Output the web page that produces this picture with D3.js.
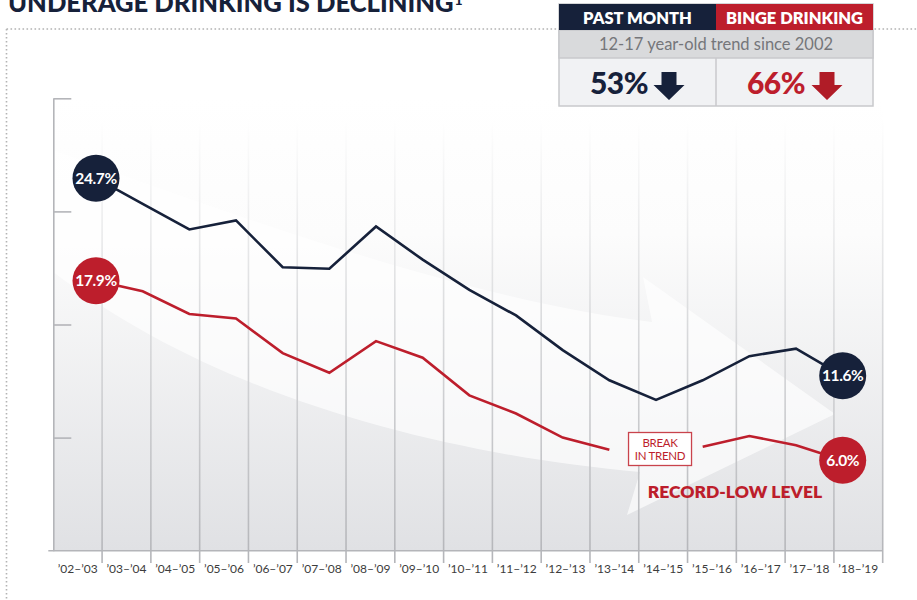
<!DOCTYPE html>
<html>
<head>
<meta charset="utf-8">
<script src="https://cdn.jsdelivr.net/npm/d3@7"></script>
<style>
  html, body { margin: 0; padding: 0; background: #fff; }
  svg { display: block; font-family: "Lato", "Noto Sans", sans-serif; }
</style>
</head>
<body>
<svg id="chart" width="917" height="600"></svg>
<script>
// Chart data.
var periods = ["’02–’03", "’03–’04", "’04–’05", "’05–’06", "’06–’07", "’07–’08",
  "’08–’09", "’09–’10", "’10–’11", "’11–’12", "’12–’13", "’13–’14", "’14–’15",
  "’15–’16", "’16–’17", "’17–’18", "’18–’19"];
var pastMonth = [24.7, 23.0, 21.3, 21.9, 18.8, 18.7, 21.5, 19.3, 17.3, 15.6,
  13.3, 11.3, 10.0, 11.3, 12.9, 13.4, 11.6];
var bingeDrinking = [17.9, 17.2, 15.7, 15.4, 13.1, 11.8, 13.9, 12.8, 10.3, 9.1,
  7.5, 6.7, null, 6.9, 7.6, 7.0, 6.0];
var yTicks = [0, 7.5, 15, 22.5, 30];
var legendHeads = ["PAST MONTH", "BINGE DRINKING"];
var legendChanges = ["53%", "66%"];
var legendNote = "12-17 year-old trend since 2002";

// Globals.
var NAVY = "#16213a";
var RED = "#bd1e2c";
var GRID = "#b4b5b9";
var TOP = 98.3, BOTTOM = 550.7, LEFT = 53.3, RIGHT = 882.7;

var svg = d3.select("#chart");
var defs = svg.append("defs");

var x = d3.scalePoint().domain(periods).range([96, 842.7]);
var xBand = d3.scaleBand().domain(periods).range([LEFT, RIGHT]).padding(0);
var y = d3.scaleLinear().domain([0, 30]).range([BOTTOM, TOP]);

// Gradients for the plot background and the column lines.
var bg = defs.append("linearGradient").attr("id", "bg")
  .attr("x1", 0).attr("y1", 0).attr("x2", 0).attr("y2", 1);
bg.append("stop").attr("offset", "0%").attr("stop-color", "#ffffff");
bg.append("stop").attr("offset", "30%").attr("stop-color", "#fcfcfc");
bg.append("stop").attr("offset", "100%").attr("stop-color", "#e0e1e4");

var colGrad = defs.append("linearGradient").attr("id", "col")
  .attr("gradientUnits", "userSpaceOnUse")
  .attr("x1", 0).attr("y1", 118).attr("x2", 0).attr("y2", 563);
colGrad.append("stop").attr("offset", "0%").attr("stop-color", "#ffffff");
colGrad.append("stop").attr("offset", "45%").attr("stop-color", "#dadbdd");
colGrad.append("stop").attr("offset", "100%").attr("stop-color", GRID);

// Dotted frame.
svg.append("path")
  .attr("d", "M6.5,29H917M6.5,29V600")
  .attr("fill", "none")
  .attr("stroke", "#b3b3b3")
  .attr("stroke-width", 1.6)
  .attr("stroke-dasharray", "1.6 2.4");

// Title (cut off by the top edge, as in the original).
var title = svg.append("text")
  .attr("x", 8).attr("y", 11.5)
  .attr("fill", NAVY)
  .attr("font-size", 25.6)
  .attr("font-weight", 900)
  .text("UNDERAGE DRINKING IS DECLINING");
title.append("tspan")
  .attr("font-size", 14)
  .attr("dx", 1)
  .attr("dy", -7)
  .text("1");

// Plot background.
svg.append("rect")
  .attr("x", LEFT).attr("y", TOP)
  .attr("width", RIGHT - LEFT).attr("height", BOTTOM - TOP)
  .attr("fill", "url(#bg)");

// Big faint arrow.
svg.append("path")
  .attr("d", "M" + LEFT + ",150C250,222 480,302 652,322L643,277L835,414L627,515" +
    "L640,472C450,455 220,400 " + LEFT + ",272Z")
  .attr("fill", "#ffffff")
  .attr("opacity", 0.65);

// Column lines.
svg.append("g").selectAll("line")
  .data(periods)
  .enter()
  .append("line")
  .attr("x1", function(d){ return xBand(d) + xBand.bandwidth(); })
  .attr("x2", function(d){ return xBand(d) + xBand.bandwidth(); })
  .attr("y1", 118)
  .attr("y2", 563)
  .attr("stroke", "url(#col)")
  .attr("stroke-width", 1.6);

// Y axis.
var yAxis = svg.append("g")
  .attr("transform", "translate(" + LEFT + ",0)")
  .call(d3.axisRight(y).tickValues(yTicks).tickSize(18).tickSizeOuter(0).tickFormat(""));
yAxis.select(".domain").attr("stroke", GRID).attr("stroke-width", 1.6);
yAxis.selectAll(".tick line").attr("stroke", GRID).attr("stroke-width", 1.6);
yAxis.selectAll(".tick").filter(function(d){ return d === 0; }).remove();

// X axis.
var xAxis = svg.append("g")
  .attr("transform", "translate(0," + BOTTOM + ")")
  .call(d3.axisBottom(xBand).tickSize(0).tickSizeOuter(0).tickPadding(14));
xAxis.select(".domain").remove();
xAxis.append("line")
  .attr("x1", LEFT - 5).attr("x2", RIGHT)
  .attr("stroke", GRID).attr("stroke-width", 1.6);
xAxis.selectAll("text")
  .attr("fill", "#3c3c3c")
  .attr("font-size", 12)
  .attr("font-family", "Lato, sans-serif");

// Lines.
var line = d3.line()
  .defined(function(d){ return d[1] !== null; })
  .x(function(d){ return x(d[0]); })
  .y(function(d){ return y(d[1]); });

var series = [
  {values: pastMonth, color: NAVY},
  {values: bingeDrinking, color: RED}
];

svg.append("g").selectAll("path")
  .data(series)
  .enter()
  .append("path")
  .attr("d", function(s){ return line(periods.map(function(p, i){ return [p, s.values[i]]; })); })
  .attr("fill", "none")
  .attr("stroke", function(s){ return s.color; })
  .attr("stroke-width", 2.6)
  .attr("stroke-linejoin", "miter");

// End point badges.
var badges = [];
series.forEach(function(s){
  [0, periods.length - 1].forEach(function(i){
    badges.push({p: periods[i], v: s.values[i], color: s.color});
  });
});
var badge = svg.append("g").selectAll("g")
  .data(badges)
  .enter()
  .append("g")
  .attr("transform", function(d){ return "translate(" + x(d.p) + "," + y(d.v) + ")"; });
badge.append("circle")
  .attr("r", 23.5)
  .attr("fill", function(d){ return d.color; });
badge.append("text")
  .attr("text-anchor", "middle")
  .attr("dy", "0.36em")
  .attr("fill", "#fff")
  .attr("font-size", 15.5)
  .attr("font-weight", 700)
  .attr("letter-spacing", -0.4)
  .text(function(d){ return d.v.toFixed(1) + "%"; });

// Break in trend note, where binge drinking has no value.
var gapIndex = bingeDrinking.indexOf(null);
var note = svg.append("g")
  .attr("transform", "translate(" + (x(periods[gapIndex]) + 4) + ",449)");
note.append("rect")
  .attr("x", -31.5).attr("y", -16.5)
  .attr("width", 63).attr("height", 33)
  .attr("fill", "#fff")
  .attr("stroke", "#c9434c")
  .attr("stroke-width", 1.3);
note.selectAll("text")
  .data(["BREAK", "IN TREND"])
  .enter()
  .append("text")
  .attr("text-anchor", "middle")
  .attr("y", function(d, i){ return i === 0 ? -2.5 : 11; })
  .attr("fill", RED)
  .attr("font-size", 11.5)
  .attr("letter-spacing", -0.3)
  .text(function(d){ return d; });

svg.append("text")
  .attr("x", 735).attr("y", 497.5)
  .attr("text-anchor", "middle")
  .attr("fill", RED)
  .attr("font-size", 17.5)
  .attr("font-weight", 800)
  .text("RECORD-LOW LEVEL");

// Legend box.
var LX = 559, LW = 157, colors = [NAVY, RED];
var legend = svg.append("g");
legend.append("rect")
  .attr("x", LX).attr("y", 4).attr("width", LW * 2).attr("height", 102)
  .attr("fill", "#f1f2f4").attr("stroke", "#c8c9cc").attr("stroke-width", 1.5);
legend.append("rect")
  .attr("x", LX).attr("y", 30).attr("width", LW * 2).attr("height", 28)
  .attr("fill", "#d9dadc").attr("stroke", "#c8c9cc").attr("stroke-width", 1.5);
legend.append("line")
  .attr("x1", LX + LW).attr("x2", LX + LW).attr("y1", 58).attr("y2", 106)
  .attr("stroke", "#c8c9cc").attr("stroke-width", 1.5);
legend.selectAll(".head")
  .data(legendHeads)
  .enter()
  .append("rect")
  .attr("x", function(d, i){ return LX + i * LW; })
  .attr("y", 4).attr("width", LW).attr("height", 26)
  .attr("fill", function(d, i){ return colors[i]; });
legend.selectAll(".headText")
  .data(legendHeads)
  .enter()
  .append("text")
  .attr("x", function(d, i){ return LX + i * LW + LW / 2; })
  .attr("y", 24)
  .attr("text-anchor", "middle")
  .attr("fill", "#fff")
  .attr("font-size", 16.5)
  .attr("font-weight", 800)
  .text(function(d){ return d; });
legend.append("text")
  .attr("x", LX + LW).attr("y", 50)
  .attr("text-anchor", "middle")
  .attr("fill", "#75767a")
  .attr("font-size", 16.5)
  .text(legendNote);
var change = legend.selectAll(".change")
  .data(legendChanges)
  .enter()
  .append("g")
  .attr("transform", function(d, i){ return "translate(" + (LX + i * LW) + ",0)"; });
change.append("text")
  .attr("x", 60)
  .attr("y", 94)
  .attr("text-anchor", "middle")
  .attr("fill", function(d, i){ return colors[i]; })
  .attr("font-size", 30)
  .attr("font-weight", 900)
  .attr("letter-spacing", -0.5)
  .text(function(d){ return d; });
change.append("path")
  .attr("d", function(d, i){
    var cx = i === 0 ? 110 : 111;
    return "M" + (cx - 7.5) + ",72h15v13h8l-15.5,15l-15.5,-15h8z";
  })
  .attr("fill", function(d, i){ return i === 0 ? NAVY : "#b01c27"; });
</script>
</body>
</html>
